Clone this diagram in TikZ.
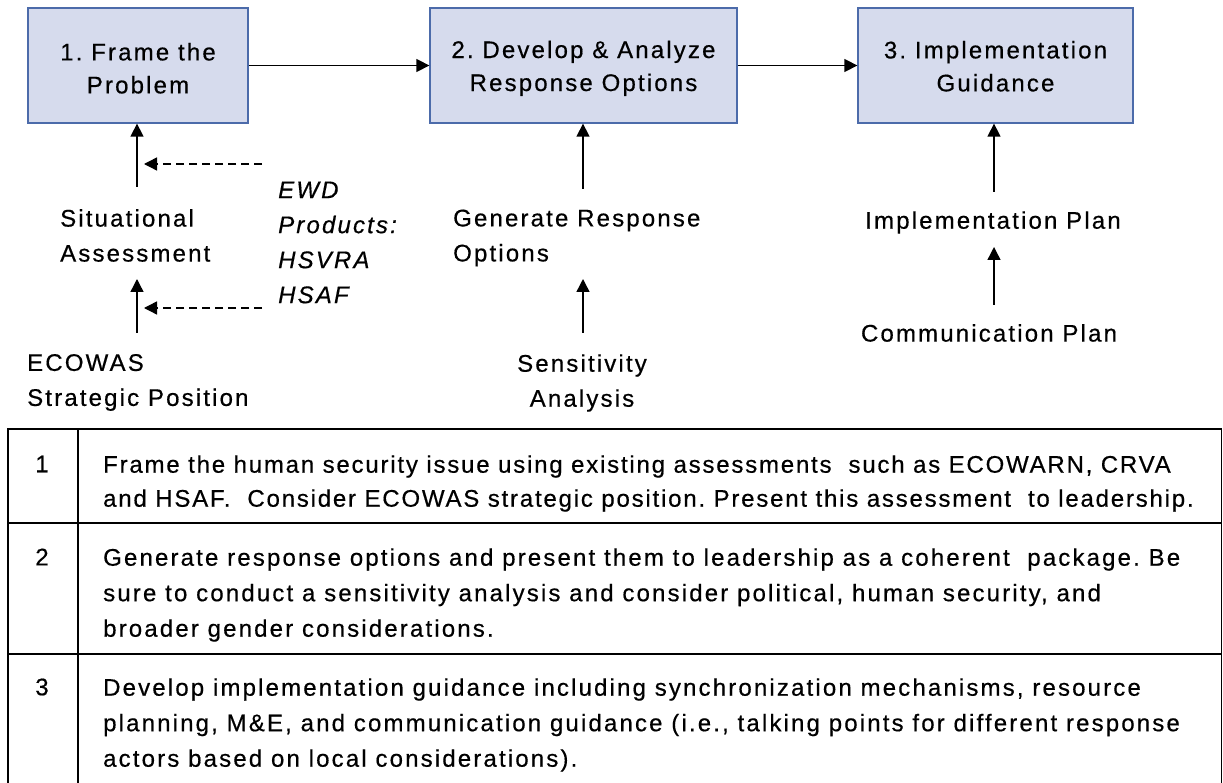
\documentclass[tikz,border=0pt]{standalone}
\usepackage{fontspec}
\setmainfont{Liberation Sans}[LetterSpace=9, FakeBold=0.5]
\newfontfamily\snugfont{Liberation Sans}[LetterSpace=7.5, FakeBold=0.5]
\usetikzlibrary{arrows.meta}
\definecolor{stagefill}{RGB}{214,219,237}
\definecolor{stageedge}{RGB}{76,107,170}
\begin{document}
\frenchspacing
\begin{tikzpicture}[x=1pt,y=-1pt,
  stage/.style={draw=stageedge, fill=stagefill, line width=1.3pt,
    minimum height=115pt, inner sep=0pt, align=center,
    font=\fontsize{24pt}{33pt}\selectfont},
  lbl/.style={inner sep=0pt, font=\fontsize{24pt}{35pt}\selectfont},
  src/.style={lbl, font=\fontsize{24pt}{35pt}\selectfont\itshape},
  cell/.style={inner sep=0pt, anchor=west, align=left},
  arr/.style={line width=1.4pt, -{Triangle[length=13pt,width=13pt]}},
  feed/.style={arr, dash pattern=on 8pt off 5pt},
  rule/.style={line width=1.6pt, line cap=rect}]
\useasboundingbox (0,0) rectangle (1223,783);

% process stages (the struts set the text a little below the box centre)
\node[stage, minimum width=220pt] (s1) at (138,65.5) {\rule{0pt}{23pt}1. Frame the\\Problem};
\node[stage, minimum width=307pt] (s2) at (583.5,65.5) {\rule{0pt}{23pt}2. Develop \& Analyze\\Response Options};
\node[stage, minimum width=275pt] (s3) at (995.5,65.5) {\rule{0pt}{19pt}3. Implementation\\Guidance};

\draw[arr] (s1) -- (s2);
\draw[arr] (s2) -- (s3);

% inputs to stage 1
\node[lbl, anchor=west, align=left] (sit) at (60,235.5) {Situational\\Assessment};
\node[lbl, anchor=west, align=left] (eco) at (27,382.5) {ECOWAS\\Strategic Position};
\node[src, anchor=west, align=left] (ewd) at (278,242.5) {EWD\\Products:\\HSVRA\\HSAF};

\coordinate (sitTop) at (137,187);
\coordinate (ecoTop) at (137,333);
\coordinate (sitIn) at (137,279);
\coordinate (feedA) at (144,164);
\coordinate (feedB) at (144,308);
\draw[arr] (sitTop) -- (sitTop |- s1.south);
\draw[arr] (ecoTop) -- (sitIn);
\draw[feed] (ewd.west |- feedA) ++(-16,0) -- (feedA);
\draw[feed] (ewd.west |- feedB) ++(-16,0) -- (feedB);

% inputs to stage 2
\node[lbl, anchor=west, align=left] (gen) at (453,238) {Generate Response\\Options};
\node[lbl, align=center] (sens) at (582,383) {Sensitivity\\Analysis};
\coordinate (genTop) at (583,189);
\coordinate (sensTop) at (583,333);
\coordinate (genIn) at (583,279);
\draw[arr] (genTop) -- (genTop |- s2.south);
\draw[arr] (sensTop) -- (genIn);

% inputs to stage 3
\node[lbl] (impl) at (993,222.5) {Implementation Plan};
\node[lbl] (comm) at (989,333) {Communication Plan};
\coordinate (implTop) at (994,192);
\coordinate (commTop) at (994,305);
\coordinate (implIn) at (994,247);
\draw[arr] (implTop) -- (implTop |- s3.south);
\draw[arr] (commTop) -- (implIn);

% summary table
\draw[rule] (8,783) -- (8,429) -- (1221.5,429) -- (1221.5,783);
\draw[rule] (78,429) -- (78,783);
\draw[rule] (8,523) -- (1221.5,523);
\draw[rule] (8,654) -- (1221.5,654);

\begin{scope}[every node/.style={font=\fontsize{24pt}{34pt}\selectfont}]
\node[inner sep=0pt] (n1) at (42,464) {1};
\node[inner sep=0pt] (n2) at (42,557) {2};
\node[inner sep=0pt] (n3) at (42,687) {3};
\node[cell, font=\fontsize{24pt}{34pt}\snugfont] (t1) at (103,483.5) {Frame the human security issue using existing assessments~ such as ECOWARN, CRVA\\
and HSAF.~ Consider ECOWAS strategic position. Present this assessment~ to leadership.};
\end{scope}
\begin{scope}[every node/.style={font=\fontsize{24pt}{35.5pt}\selectfont}]
\node[cell] (t2) at (103,595) {Generate response options and present them to leadership as a coherent~ package. Be\\
sure to conduct a sensitivity analysis and consider political, human security, and\\
broader gender considerations.};
\node[cell] (t3) at (103,725) {Develop implementation guidance including synchronization mechanisms, resource\\
planning, M\&E, and communication guidance (i.e., talking points for different response\\
actors based on local considerations).};
\end{scope}
\end{tikzpicture}
\end{document}
